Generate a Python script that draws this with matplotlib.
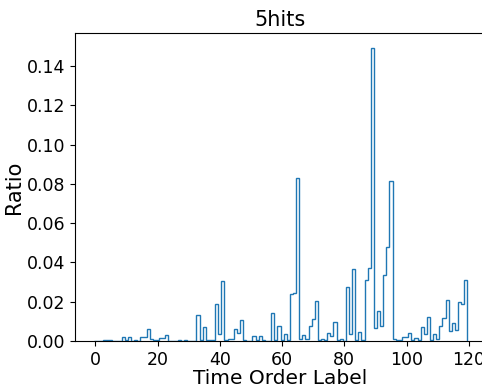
import numpy as np
import matplotlib
matplotlib.use("Agg")
import matplotlib.pyplot as plt

# Time order labels 0..119 and the fraction of 5-hit events in each
labels = np.arange(120)
ratios = [
    0.0000, 0.0001, 0.0002, 0.0005, 0.0004, 0.0007, 0.0001, 0.0002, 0.0001, 0.0019,
    0.0003, 0.0018, 0.0002, 0.0006, 0.0002, 0.0022, 0.0022, 0.0063, 0.0010, 0.0005,
    0.0003, 0.0017, 0.0017, 0.0029, 0.0002, 0.0001, 0.0002, 0.0004, 0.0002, 0.0004,
    0.0001, 0.0001, 0.0002, 0.0132, 0.0005, 0.0072, 0.0004, 0.0006, 0.0003, 0.0188,
    0.0038, 0.0306, 0.0004, 0.0010, 0.0010, 0.0063, 0.0040, 0.0105, 0.0003, 0.0002,
    0.0002, 0.0026, 0.0007, 0.0024, 0.0003, 0.0002, 0.0002, 0.0144, 0.0007, 0.0074,
    0.0004, 0.0035, 0.0005, 0.0238, 0.0243, 0.0831, 0.0008, 0.0030, 0.0008, 0.0075,
    0.0114, 0.0206, 0.0004, 0.0009, 0.0004, 0.0039, 0.0028, 0.0095, 0.0004, 0.0008,
    0.0002, 0.0275, 0.0038, 0.0365, 0.0003, 0.0044, 0.0005, 0.0310, 0.0372, 0.1494,
    0.0065, 0.0153, 0.0078, 0.0338, 0.0478, 0.0813, 0.0010, 0.0005, 0.0006, 0.0022,
    0.0022, 0.0039, 0.0005, 0.0013, 0.0007, 0.0073, 0.0036, 0.0122, 0.0005, 0.0035,
    0.0009, 0.0078, 0.0115, 0.0209, 0.0049, 0.0090, 0.0058, 0.0200, 0.0186, 0.0312,
]
title = "5hits"
xlabel = "Time Order Label"
ylabel = "Ratio"

fig = plt.figure(figsize=(4.82, 3.87), dpi=100)
ax = fig.add_axes([75 / 482, 46 / 387, 411 / 482, 308 / 387])

edges = np.arange(-0.5, 120.5, 1.0)
ax.hist(labels, bins=edges, weights=ratios, histtype="step", color="#1f77b4", linewidth=1.0)

ax.set_xticks([0, 20, 40, 60, 80, 100, 120])
ax.yaxis.set_major_formatter(matplotlib.ticker.FormatStrFormatter("%.2f"))
ax.tick_params(labelsize=12.5)
ax.set_title(title, fontsize=15, pad=5)
ax.set_xlabel(xlabel, fontsize=14.5, labelpad=0)
ax.set_ylabel(ylabel, fontsize=15, labelpad=2)

fig.savefig("out.png", dpi=100)
